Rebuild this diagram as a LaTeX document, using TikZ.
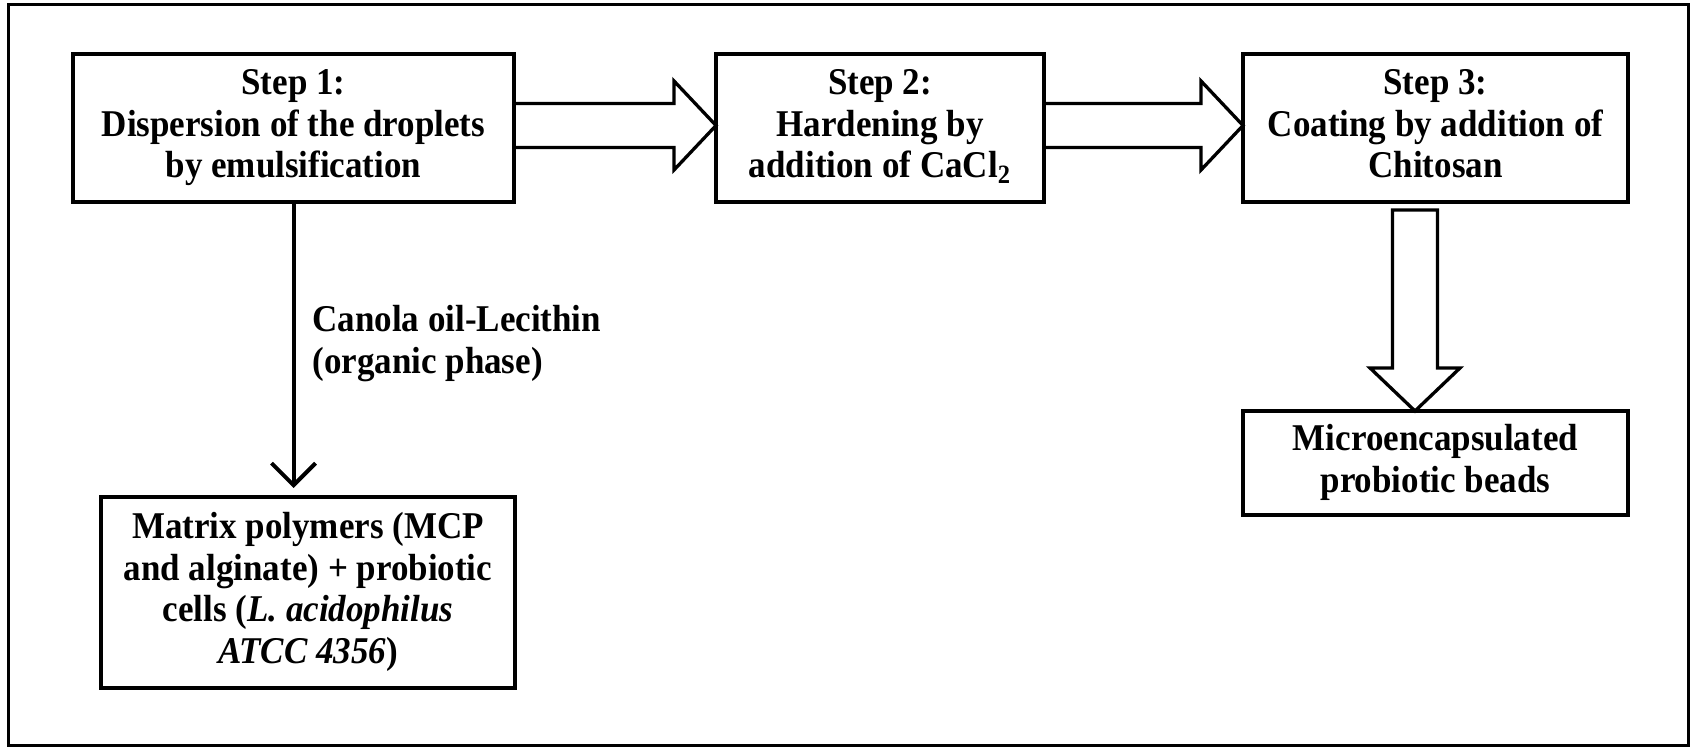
\documentclass[tikz,border=0pt]{standalone}
\usepackage{fontspec}
\usepackage{graphicx}
\setmainfont{Liberation Serif}
\usetikzlibrary{calc,arrows.meta}
\newcommand\ctext[1]{\scalebox{1}[1.08]{\begin{tabular}{@{}c@{}}#1\end{tabular}}}
\newcommand\ltext[1]{\scalebox{1}[1.08]{\begin{tabular}{@{}l@{}}#1\end{tabular}}}
\begin{document}
\begin{tikzpicture}[x=0.5pt,y=-0.5pt,
  every node/.style={font=\fontsize{17.5pt}{19.2pt}\selectfont\bfseries},
  stepbox/.style={draw,line width=2.15pt,inner sep=0pt,outer sep=0pt},
  blockarrow/.style={draw,line width=1.65pt,line join=miter},
  thinarrow/.style={draw,line width=2pt,-{Straight Barb[length=11pt,width=22pt,line width=2pt]}},
  frame/.style={draw,line width=1.5pt}]
\useasboundingbox (0,0) rectangle (1690,747);
\draw[frame] (8,5) rectangle (1688,745);

\node[stepbox,minimum width=441*0.5pt,minimum height=148*0.5pt] (s1) at (293.5,128)
  {\ctext{Step 1:\\Dispersion of the droplets\\by emulsification}};
\node[stepbox,minimum width=328*0.5pt,minimum height=148*0.5pt] (s2) at (880,128)
  {\ctext{Step 2:\\Hardening by\\addition of CaCl\textsubscript{2}}};
\node[stepbox,minimum width=385*0.5pt,minimum height=148*0.5pt] (s3) at (1435.5,128)
  {\ctext{Step 3:\\Coating by addition of\\Chitosan}};
\node[stepbox,minimum width=414*0.5pt,minimum height=191*0.5pt] (mx) at (308,592.5)
  {\ctext{Matrix polymers (MCP\\and alginate) + probiotic\\cells (\textit{L. acidophilus}\\\textit{ATCC 4356})}};
\node[stepbox,minimum width=385*0.5pt,minimum height=104*0.5pt] (mb) at (1435.5,463)
  {\ctext{Microencapsulated\\probiotic beads}};

% block arrow 1
\coordinate (a1s) at ($(s1.east)+(0,-2.5)$);
\coordinate (a1t) at ($(s2.west)+(0,-2.5)$);
\draw[blockarrow] ($(a1s)+(0,-22)$) -- ($(a1t)+(-42,-22)$) -- ($(a1t)+(-42,-44.5)$) -- (a1t)
  -- ($(a1t)+(-42,44.5)$) -- ($(a1t)+(-42,22)$) -- ($(a1s)+(0,22)$);
% block arrow 2
\coordinate (a2s) at ($(s2.east)+(0,-2.5)$);
\coordinate (a2t) at ($(s3.west)+(0,-2.5)$);
\draw[blockarrow] ($(a2s)+(0,-22)$) -- ($(a2t)+(-42,-22)$) -- ($(a2t)+(-42,-44.5)$) -- (a2t)
  -- ($(a2t)+(-42,44.5)$) -- ($(a2t)+(-42,22)$) -- ($(a2s)+(0,22)$);
% down block arrow
\coordinate (a3s) at ($(s3.south)+(-20.5,8)$);
\coordinate (a3t) at ($(mb.north)+(-20.5,0)$);
\draw[blockarrow] ($(a3s)+(-22.5,0)$) -- ($(a3s)+(22.5,0)$) -- ($(a3t)+(22.5,-43)$) -- ($(a3t)+(45,-43)$)
  -- (a3t) -- ($(a3t)+(-45,-43)$) -- ($(a3t)+(-22.5,-43)$) -- cycle;

% thin arrow
\coordinate (atip) at ($(s1.south |- mx.north)+(0,-9)$);
\draw[thinarrow] (s1.south) -- (atip);
\node[anchor=west,inner sep=0pt] (lbl) at (312,344)
  {\ltext{Canola oil-Lecithin\\(organic phase)}};
\end{tikzpicture}
\end{document}
